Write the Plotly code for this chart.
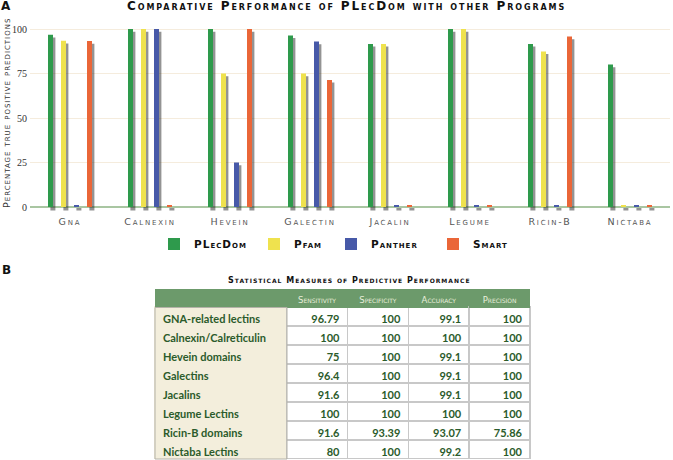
import plotly.graph_objects as go

# ---------------- data ----------------
categories = ["Gna", "Calnexin", "Hevein", "Galectin", "Jacalin", "Legume", "Ricin-B", "Nictaba"]
programs = ["PLecDom", "Pfam", "Panther", "Smart"]
plecdom = [96.79, 100, 100, 96.4, 91.6, 100, 91.6, 80]
pfam = [93.4, 100, 75, 75, 91.6, 100, 87.4, 1]
panther = [1, 100, 25, 93, 1, 1, 1, 1]
smart = [93.2, 1, 100, 71.4, 1, 1, 95.8, 1]
y_ticks = [0, 25, 50, 75, 100]

table_rows = ["GNA-related lectins", "Calnexin/Calreticulin", "Hevein domains", "Galectins",
              "Jacalins", "Legume Lectins", "Ricin-B domains", "Nictaba Lectins"]
table_columns = ["Sensitivity", "Specificity", "Accuracy", "Precision"]
sensitivity = [96.79, 100, 75, 96.4, 91.6, 100, 91.6, 80]
specificity = [100, 100, 100, 100, 100, 100, 93.39, 100]
accuracy = [99.1, 100, 99.1, 99.1, 99.1, 100, 93.07, 99.2]
precision = [100, 100, 100, 100, 100, 100, 75.86, 100]

# ---------------- helpers ----------------
W, H = 673, 460


def px(x):
    return x / W


def py(y):
    return 1 - y / H


def spaced(s, ls=1.2):
    return f'<span style="letter-spacing:{ls}px">{s}</span>'


colors = ["#2e9a4c", "#efe24e", "#4759a8", "#ea6638"]
series = [plecdom, pfam, panther, smart]
legend_ids = ["legend", "legend2", "legend3", "legend4"]
legend_x = [154, 254, 331, 433]

fig = go.Figure()
pitch = 0.1625
bw = 0.0625
for i, (name, vals, col) in enumerate(zip(programs, series, colors)):
    off = (i - 1.5) * pitch - bw / 2
    fig.add_trace(go.Bar(
        x=categories, y=[v + 0.5 for v in vals], base=-2, offset=off + 0.03, width=bw,
        marker=dict(color="rgba(40,40,40,0.5)", line_width=0),
        showlegend=False, hoverinfo="skip"))
    fig.add_trace(go.Bar(
        x=categories, y=vals, name=spaced(name, 1.0), offset=off, width=bw,
        marker=dict(color=col, line_width=0), legend=legend_ids[i]))


def fmt(vals):
    return [f"{v:g}" for v in vals]


fig.add_trace(go.Table(
    domain=dict(x=[px(155), px(530)], y=[py(459), py(289)]),
    columnwidth=[132, 61, 61, 61, 61],
    header=dict(
        values=[""] + table_columns,
        fill_color="#6c9a6b", line=dict(color="#6c9a6b", width=1),
        font=dict(family="DejaVu Sans", size=8.5, color="#e9eedb", variant="small-caps"),
        align="center", height=18),
    cells=dict(
        values=[table_rows, fmt(sensitivity), fmt(specificity), fmt(accuracy), fmt(precision)],
        fill_color=[["#f3eedc"] * 8] + [["white"] * 8] * 4,
        line=dict(color=["#f3eedc", "#c8c8c8", "#c8c8c8", "#c8c8c8", "#c8c8c8"], width=1.5),
        font=dict(family="Lato", size=11, color="#2b5b2b", weight="bold"),
        align=["left", "right", "right", "right", "right"], height=19),
))

title_font = dict(family="DejaVu Sans", size=12, color="#111", weight="bold", variant="small-caps")
annotations = [
    dict(text=spaced("Comparative Performance of PLecDom with other Programs", 1.9),
         x=px(347), y=py(6), font=title_font),
    dict(text="<b>A</b>", x=px(6), y=py(6), font=dict(family="DejaVu Sans", size=12, color="#111")),
    dict(text="<b>B</b>", x=px(6), y=py(270), font=dict(family="DejaVu Sans", size=12, color="#111")),
    dict(text=spaced("Percentage true positive predictions", 1.0), x=px(6), y=py(113), textangle=-90,
         font=dict(family="DejaVu Sans", size=9.5, color="#333", variant="small-caps")),
    dict(text=spaced("Statistical Measures of Predictive Performance", 1.0),
         x=px(349), y=py(280),
         font=dict(family="DejaVu Sans", size=8, color="#111", weight="bold", variant="small-caps")),
]
for a in annotations:
    a.update(xref="paper", yref="paper", showarrow=False, xanchor="center", yanchor="middle")

legend_font = dict(family="DejaVu Sans", size=10.5, color="#111", weight="bold", variant="small-caps")
legends = {}
for lid, lx in zip(legend_ids, legend_x):
    legends[lid] = dict(orientation="h", x=px(lx), xanchor="left", y=py(244), yanchor="middle",
                        font=legend_font, bgcolor="rgba(0,0,0,0)")

shapes = [
    dict(type="rect", xref="paper", yref="paper", x0=px(155), x1=px(287), y0=py(459), y1=py(307.5),
         line=dict(color="#b4b2a8", width=1), fillcolor="rgba(0,0,0,0)"),
]

fig.update_layout(
    width=W, height=H, margin=dict(l=0, r=0, t=0, b=0, autoexpand=False),
    paper_bgcolor="white", plot_bgcolor="white",
    barmode="overlay", showlegend=True,
    xaxis=dict(domain=[px(30), px(670)], range=[-0.5, 7.5], showgrid=False, ticks="",
               automargin=False, ticklabelstandoff=3,
               tickvals=categories, ticktext=[spaced(c, 1.8) for c in categories],
               tickfont=dict(family="DejaVu Sans", size=9.5, color="#555", variant="small-caps")),
    yaxis=dict(domain=[py(211.5), py(22)], range=[-2.53, 103.93], tickvals=y_ticks,
               showgrid=True, gridcolor="#f5ecdd", gridwidth=1, automargin=False,
               zeroline=True, zerolinecolor="#a9c6a2", zerolinewidth=1.5,
               ticks="", ticklabelstandoff=2,
               tickfont=dict(family="Liberation Serif", size=10, color="#333")),
    annotations=annotations,
    shapes=shapes,
    **legends,
)

fig.write_html("out.html", config={"displayModeBar": False},
               post_script="document.body.style.margin='0';document.body.style.overflow='hidden';")
